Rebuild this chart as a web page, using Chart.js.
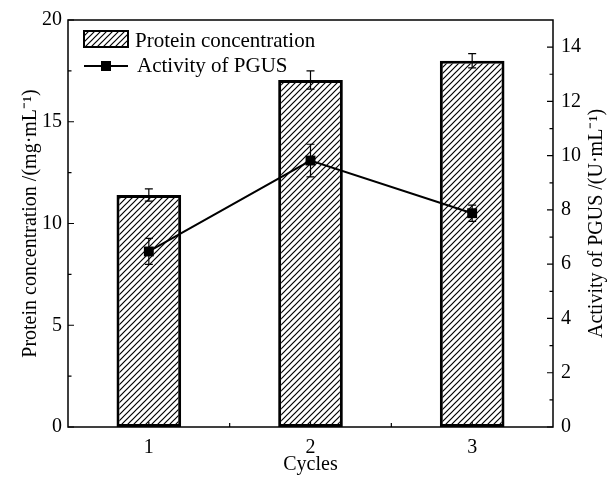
<!DOCTYPE html>
<html lang="en">
<head>
<meta charset="UTF-8">
<title>Protein concentration and PGUS activity</title>
<style>
  html, body { margin: 0; padding: 0; background: #fff; }
  #wrap { width: 614px; height: 478px; }
</style>
</head>
<body>
<div id="wrap"><canvas id="cycleChart" width="614" height="478"></canvas></div>
<script src="https://cdn.jsdelivr.net/npm/chart.js"></script>
<script>
  const cycles = ['1', '2', '3'];
  const proteinConc = [11.4, 17.05, 18.0];
  const proteinErr = [0.3, 0.45, 0.35];
  const pgusActivity = [6.47, 9.82, 7.88];
  const pgusErr = [0.48, 0.6, 0.3];
  const leftTicks = [0, 5, 10, 15, 20];
  const rightTicks = [0, 2, 4, 6, 8, 10, 12, 14];

  const FONT = '"Liberation Serif", "Times New Roman", serif';
  const rightTitle = 'Activity of PGUS /(U·mL⁻¹)';

  // diagonal "////" hatch used for the bars and the legend patch
  function makeHatch() {
    const size = 6;
    const c = document.createElement('canvas');
    c.width = size; c.height = size;
    const g = c.getContext('2d');
    g.fillStyle = '#fff';
    g.fillRect(0, 0, size, size);
    g.strokeStyle = '#000';
    g.lineWidth = 1.2;
    g.beginPath();
    g.moveTo(-1, size + 1); g.lineTo(size + 1, -1);
    g.moveTo(-1, 1); g.lineTo(1, -1);
    g.moveTo(size - 1, size + 1); g.lineTo(size + 1, size - 1);
    g.stroke();
    return g.createPattern(c, 'repeat');
  }

  const ctx = document.getElementById('cycleChart').getContext('2d');
  const hatch = makeHatch();

  function drawErr(g, x, yTop, yBot) {
    g.beginPath();
    g.moveTo(x, yTop); g.lineTo(x, yBot);
    g.moveTo(x - 4, yTop); g.lineTo(x + 4, yTop);
    g.moveTo(x - 4, yBot); g.lineTo(x + 4, yBot);
    g.stroke();
  }

  const errorBars = {
    id: 'errorBars',
    afterDatasetsDraw(chart) {
      const g = chart.ctx;
      const y = chart.scales.y, y1 = chart.scales.y1;
      g.save();
      g.strokeStyle = '#000';
      g.lineWidth = 1.2;
      chart.getDatasetMeta(0).data.forEach((bar, i) => {
        drawErr(g, bar.x, y.getPixelForValue(proteinConc[i] + proteinErr[i]),
          y.getPixelForValue(proteinConc[i] - proteinErr[i]));
      });
      chart.getDatasetMeta(1).data.forEach((pt, i) => {
        drawErr(g, pt.x, y1.getPixelForValue(pgusActivity[i] + pgusErr[i]),
          y1.getPixelForValue(pgusActivity[i] - pgusErr[i]));
      });
      g.restore();
    }
  };

  // frame, inward tick marks, right axis title and the legend
  const frame = {
    id: 'frame',
    afterDraw(chart) {
      const g = chart.ctx;
      const a = chart.chartArea;
      const {x, y, y1} = chart.scales;
      g.save();
      g.strokeStyle = '#000';
      g.lineWidth = 1.5;
      g.strokeRect(a.left, a.top, a.right - a.left, a.bottom - a.top);

      g.lineWidth = 1.2;
      g.beginPath();
      leftTicks.forEach((v, i) => {
        const py = y.getPixelForValue(v);
        g.moveTo(a.left, py); g.lineTo(a.left + 6, py);
        if (i > 0) {
          const my = y.getPixelForValue((v + leftTicks[i - 1]) / 2);
          g.moveTo(a.left, my); g.lineTo(a.left + 3.5, my);
        }
      });
      rightTicks.forEach((v, i) => {
        const py = y1.getPixelForValue(v);
        g.moveTo(a.right, py); g.lineTo(a.right - 6, py);
        if (i > 0) {
          const my = y1.getPixelForValue((v + rightTicks[i - 1]) / 2);
          g.moveTo(a.right, my); g.lineTo(a.right - 3.5, my);
        }
      });
      cycles.forEach((c, i) => {
        const px = x.getPixelForValue(i);
        g.moveTo(px, a.bottom); g.lineTo(px, a.bottom - 5);
        if (i > 0) {
          const mx = (px + x.getPixelForValue(i - 1)) / 2;
          g.moveTo(mx, a.bottom); g.lineTo(mx, a.bottom - 4);
        }
      });
      g.stroke();

      // right axis title reads bottom-to-top like the left one
      g.fillStyle = '#000';
      g.font = '20px ' + FONT;
      g.translate(y1.right - 17, (a.top + a.bottom) / 2);
      g.rotate(-Math.PI / 2);
      g.textAlign = 'center';
      g.textBaseline = 'middle';
      g.fillText(rightTitle, 0, 0);
      g.setTransform(1, 0, 0, 1, 0, 0);

      // legend
      const lx = a.left + 16, ly = a.top + 11;
      g.fillStyle = hatch;
      g.fillRect(lx, ly, 44, 16);
      g.lineWidth = 2;
      g.strokeRect(lx, ly, 44, 16);
      g.fillStyle = '#000';
      g.font = '21px ' + FONT;
      g.textAlign = 'left';
      g.textBaseline = 'alphabetic';
      g.fillText(chart.data.datasets[0].label, lx + 51, ly + 16);

      const ry = ly + 35;
      g.lineWidth = 2;
      g.beginPath();
      g.moveTo(lx, ry); g.lineTo(lx + 44, ry);
      g.stroke();
      g.fillRect(lx + 22 - 5, ry - 5, 10, 10);
      g.fillText(chart.data.datasets[1].label, lx + 53, ry + 6);
      g.restore();
    }
  };

  new Chart(ctx, {
    data: {
      labels: cycles,
      datasets: [
        {
          type: 'bar',
          label: 'Protein concentration',
          data: proteinConc,
          backgroundColor: hatch,
          borderColor: '#000',
          borderWidth: 3,
          borderSkipped: false,
          categoryPercentage: 0.4,
          barPercentage: 1.0,
          yAxisID: 'y',
          order: 1
        },
        {
          type: 'line',
          label: 'Activity of PGUS',
          data: pgusActivity,
          borderColor: '#000',
          borderWidth: 2,
          pointStyle: 'rect',
          pointRadius: 7,
          pointBackgroundColor: '#000',
          pointBorderColor: '#000',
          pointBorderWidth: 0,
          yAxisID: 'y1',
          order: 0
        }
      ]
    },
    options: {
      responsive: false,
      animation: false,
      layout: { padding: { top: 19, left: 0, right: 0, bottom: 0 }, autoPadding: false },
      plugins: {
        legend: { display: false },
        tooltip: { enabled: false }
      },
      scales: {
        x: {
          type: 'category',
          offset: true,
          grid: { display: false, drawTicks: false },
          border: { display: false },
          ticks: { color: '#000', font: { family: FONT, size: 20 }, padding: 9 },
          title: { display: true, text: 'Cycles', color: '#000', font: { family: FONT, size: 20 }, padding: { top: 0, bottom: 1 } },
          afterFit: s => { s.height = 51; }
        },
        y: {
          position: 'left',
          min: 0,
          max: 20,
          afterBuildTicks: s => { s.ticks = leftTicks.map(v => ({ value: v })); },
          grid: { display: false, drawTicks: false },
          border: { display: false },
          ticks: { color: '#000', font: { family: FONT, size: 20 }, padding: 6 },
          title: { display: true, text: 'Protein concentration /(mg·mL⁻¹)', color: '#000', font: { family: FONT, size: 20 }, padding: { top: 19, bottom: 0 } },
          afterFit: s => { s.width = 68; }
        },
        y1: {
          position: 'right',
          min: 0,
          max: 15,
          afterBuildTicks: s => { s.ticks = rightTicks.map(v => ({ value: v })); },
          grid: { display: false, drawTicks: false },
          border: { display: false },
          ticks: { color: '#000', font: { family: FONT, size: 20 }, padding: 8 },
          title: { display: false },
          afterFit: s => { s.width = 61; }
        }
      }
    },
    plugins: [errorBars, frame]
  });
</script>
</body>
</html>
